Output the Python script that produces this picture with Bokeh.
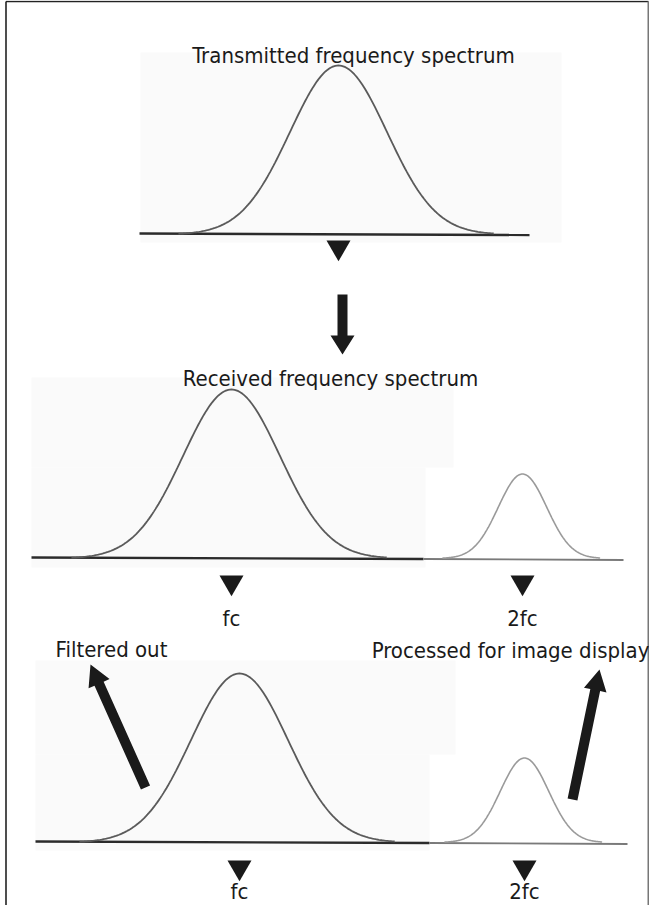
import numpy as np
from bokeh.plotting import figure
from bokeh.models import Range1d
from bokeh.core.properties import value
from bokeh.embed import file_html
from bokeh.resources import INLINE

# ---------------- data ----------------
panel_titles = ["Transmitted frequency spectrum", "Received frequency spectrum", ""]
peak_labels = ["fc", "2fc"]
peak_rel_amplitude = [1.0, 0.5]      # 2fc harmonic is about half as tall
peak_rel_width = [1.0, 0.5]          # and about half as wide
panel_peaks = [[0], [0, 1], [0, 1]]  # which peaks each panel shows
panel_show_labels = [False, True, True]
arrow_texts = ["Filtered out", "Processed for image display"]

# ---------------- layout (page pixels) ----------------
FONT = value("DejaVu Sans Condensed")
FS = "22px"
baseline_y = [241, 565, 849]
peak_x = [[346], [239, 530], [247, 532]]
full_height = 169
full_sigma = 48.5
title_pos = [(361, 63), (338, 386), None]
label_base = [None, 626, 899]
marker_y = [255, 590, 875]
dark_span = [(147, 537), (39, 431), (43, 437)]
light_span = [None, (431, 631), (437, 635)]
bg_boxes = [(148, 569, 60, 250), (39, 461, 385, 475), (39, 433, 475, 575),
            (43, 463, 668, 762), (43, 437, 762, 858)]
arrow_specs = [  # tail_x, tail_y, tip_x, tip_y, shaft_w, head_len, head_w
    (350, 302, 350, 362, 10, 19, 24),
    (153, 795, 98, 672, 10, 21, 23),
    (580, 807, 607, 677, 10, 21, 23),
]
arrow_text_pos = [(119, 657), (518, 658)]

W, H = 649, 905
p = figure(width=W, height=H, x_range=Range1d(8, 8 + W), y_range=Range1d(8 + H, 8),
           output_backend="svg", toolbar_location=None, min_border=0)
p.axis.visible = False
p.grid.visible = False
p.outline_line_color = None
p.background_fill_color = "white"

# faint scanned background boxes
p.quad(left=[b[0] for b in bg_boxes], right=[b[1] for b in bg_boxes],
       top=[b[2] for b in bg_boxes], bottom=[b[3] for b in bg_boxes],
       fill_color="#fafafa", line_color=None)

# frame border
p.line([13.5, 13.5], [9, 913], line_color="#222222", line_width=1.6)
p.line([13.5, 656], [9, 9], line_color="#222222", line_width=1.6)
p.line([656, 656], [9, 913], line_color="#777777", line_width=2)

for i in range(3):
    by = baseline_y[i]
    x0, x1 = dark_span[i]
    p.line([x0, x1], [by, by + 1.5], line_color="#2b2b2b", line_width=2.4)
    if light_span[i] is not None:
        lx0, lx1 = light_span[i]
        p.line([lx0, lx1], [by + 1.5, by + 2.5], line_color="#7a7a7a", line_width=1.8)
    for k, pk in enumerate(panel_peaks[i]):
        cx = peak_x[i][k]
        sig = full_sigma * peak_rel_width[pk]
        amp = full_height * peak_rel_amplitude[pk]
        xs = np.linspace(cx - 3.3 * sig, cx + 3.2 * sig, 200)
        ys = by + 1 - amp * np.exp(-0.5 * ((xs - cx) / sig) ** 2)
        color = "#5a5a5a" if pk == 0 else "#9a9a9a"
        p.line(xs, ys, line_color=color, line_width=1.8 if pk == 0 else 1.6)
        p.scatter([cx], [marker_y[i]], marker="inverted_triangle", size=24,
                  fill_color="#1a1a1a", line_color=None)
        if panel_show_labels[i]:
            p.text([cx], [label_base[i]], text=[peak_labels[pk]], text_font=FONT,
                   text_font_size=FS, text_align="center", text_baseline="alphabetic",
                   text_color="#1a1a1a")
    if title_pos[i] is not None:
        tx, ty = title_pos[i]
        p.text([tx], [ty], text=[panel_titles[i]], text_font=FONT, text_font_size=FS,
               text_align="center", text_baseline="alphabetic", text_color="#1a1a1a")

# arrows as polygons
def arrow_poly(tx, ty, hx, hy, sw, hl, hw):
    d = np.array([hx - tx, hy - ty], dtype=float)
    L = np.hypot(*d)
    u = d / L
    n = np.array([-u[1], u[0]])
    t = np.array([tx, ty], dtype=float)
    tip = np.array([hx, hy], dtype=float)
    base = tip - u * hl
    pts = [t + n * sw / 2, base + n * sw / 2, base + n * hw / 2, tip,
           base - n * hw / 2, base - n * sw / 2, t - n * sw / 2]
    return [q[0] for q in pts], [q[1] for q in pts]

axs, ays = [], []
for spec in arrow_specs:
    a, b = arrow_poly(*spec)
    axs.append(a)
    ays.append(b)
p.patches(axs, ays, fill_color="#1a1a1a", line_color=None)

for txt, (tx, ty) in zip(arrow_texts, arrow_text_pos):
    p.text([tx], [ty], text=[txt], text_font=FONT, text_font_size=FS,
           text_align="center", text_baseline="alphabetic", text_color="#1a1a1a")

open("out.html", "w").write(file_html(p, INLINE))
